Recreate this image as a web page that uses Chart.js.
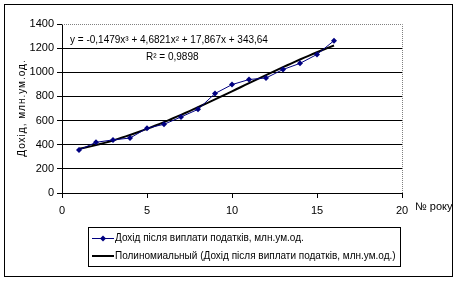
<!DOCTYPE html>
<html>
<head>
<meta charset="utf-8">
<script src="https://cdn.jsdelivr.net/npm/chart.js@4/dist/chart.umd.min.js"></script>
<style>
  html, body { margin: 0; padding: 0; background: #fff; }
  canvas { display: block; }
</style>
</head>
<body>
<canvas id="chart" width="459" height="283"></canvas>
<script>
// Дохід після виплати податків по роках
const years = [1, 2, 3, 4, 5, 6, 7, 8, 9, 10, 11, 12, 13, 14, 15, 16];
const income = [356, 420, 440, 455, 537, 569, 630, 693, 824, 898, 940, 953, 1023, 1074, 1148, 1262];

// коефіцієнти поліноміального тренду (з підпису на графіку)
const trendCoef = [-0.1479, 4.6821, 17.867, 343.64];
const trendLabel = 'y = -0,1479x³ + 4,6821x² + 17,867x + 343,64';
const r2Label = 'R² = 0,9898';

const seriesName = 'Дохід після виплати податків, млн.ум.од.';
const trendName = 'Полиномиальный (Дохід після виплати податків, млн.ум.од.)';
const yTitle = 'Дохід, млн.ум.од.';
const xTitle = '№ року';

const FONT = '"Liberation Sans", Arial, sans-serif';

function trendAt(x) {
    const [a, b, c, d] = trendCoef;
    return a * x * x * x + b * x * x + c * x + d;
}

const trendPoints = [];
for (let x = years[0]; x <= years[years.length - 1] + 1e-9; x += 0.25) {
    trendPoints.push({ x, y: trendAt(x) });
}

// рамка, підписи, легенда
const decorPlugin = {
    id: 'decor',
    beforeDatasetsDraw(chart) {
        const { ctx, chartArea: a } = chart;
        ctx.save();
        ctx.strokeStyle = '#808080';
        ctx.lineWidth = 1;
        ctx.setLineDash([1, 1]);
        ctx.beginPath();
        ctx.moveTo(a.left, Math.round(a.top) + 0.5);
        ctx.lineTo(Math.round(a.right) + 0.5, Math.round(a.top) + 0.5);
        ctx.lineTo(Math.round(a.right) + 0.5, a.bottom);
        ctx.stroke();
        ctx.restore();
    },
    afterDraw(chart) {
        const { ctx } = chart;
        ctx.save();
        // зовнішня рамка
        ctx.strokeStyle = '#000';
        ctx.lineWidth = 1;
        ctx.strokeRect(4.5, 4.5, 448, 272);

        ctx.fillStyle = '#000';
        ctx.font = '10px ' + FONT;
        ctx.textBaseline = 'middle';
        ctx.textAlign = 'left';
        ctx.fillText(trendLabel, 70, 40);
        ctx.fillText(r2Label, 146, 57);
        ctx.font = '11px ' + FONT;
        ctx.fillText(xTitle, 415, 207);

        // назва осі Y
        ctx.save();
        ctx.translate(22, 108);
        ctx.rotate(-Math.PI / 2);
        ctx.textAlign = 'center';
        ctx.font = '10px ' + FONT;
        ctx.letterSpacing = '1px';
        ctx.fillText(yTitle, 0, 0);
        ctx.restore();

        // легенда
        ctx.strokeStyle = '#000';
        ctx.strokeRect(88.5, 227.5, 312, 39);
        const ds = chart.data.datasets;
        ctx.textAlign = 'left';
        ctx.font = '10px ' + FONT;

        ctx.strokeStyle = ds[0].borderColor;
        ctx.lineWidth = 1;
        ctx.beginPath();
        ctx.moveTo(92, 238.5);
        ctx.lineTo(114, 238.5);
        ctx.stroke();
        ctx.fillStyle = ds[0].pointBackgroundColor;
        ctx.beginPath();
        ctx.moveTo(103, 235.5);
        ctx.lineTo(106, 238.5);
        ctx.lineTo(103, 241.5);
        ctx.lineTo(100, 238.5);
        ctx.closePath();
        ctx.fill();
        ctx.fillStyle = '#000';
        ctx.fillText(ds[0].label, 115, 238);

        ctx.strokeStyle = ds[1].borderColor;
        ctx.lineWidth = 2;
        ctx.beginPath();
        ctx.moveTo(92, 256);
        ctx.lineTo(114, 256);
        ctx.stroke();
        ctx.fillText(ds[1].label, 115, 256);
        ctx.restore();
    }
};

new Chart(document.getElementById('chart').getContext('2d'), {
    type: 'scatter',
    data: {
        datasets: [
            {
                label: seriesName,
                data: years.map((x, i) => ({ x, y: income[i] })),
                showLine: true,
                borderColor: '#000080',
                borderWidth: 1,
                pointStyle: 'rectRot',
                pointRadius: 3,
                pointBackgroundColor: '#000080',
                pointBorderColor: '#000080',
                pointBorderWidth: 0,
                order: 1
            },
            {
                label: trendName,
                data: trendPoints,
                showLine: true,
                borderColor: '#000',
                borderWidth: 2,
                pointRadius: 0,
                tension: 0,
                order: 2
            }
        ]
    },
    options: {
        responsive: false,
        animation: false,
        layout: { padding: { left: 0, top: 24, right: 57, bottom: 0 } },
        plugins: { legend: { display: false }, tooltip: { enabled: false } },
        scales: {
            x: {
                type: 'linear',
                min: 0, max: 20,
                ticks: { stepSize: 5, color: '#000', padding: 6, font: { family: FONT, size: 11 },
                         callback: v => String(v) },
                grid: { drawOnChartArea: false, color: '#000', tickLength: 5 },
                border: { color: '#000' },
                afterFit(scale) { scale.height = 90; }
            },
            y: {
                min: 0, max: 1400,
                ticks: { stepSize: 200, color: '#000', padding: 3, font: { family: FONT, size: 11 },
                         callback: v => String(v) },
                grid: {
                    color: ctx => (ctx.tick && ctx.tick.value === 1400) ? 'rgba(0,0,0,0)' : '#000',
                    tickColor: '#000',
                    tickLength: 5
                },
                border: { color: '#000' },
                afterFit(scale) { scale.width = 62; }
            }
        }
    },
    plugins: [decorPlugin]
});
</script>
</body>
</html>
